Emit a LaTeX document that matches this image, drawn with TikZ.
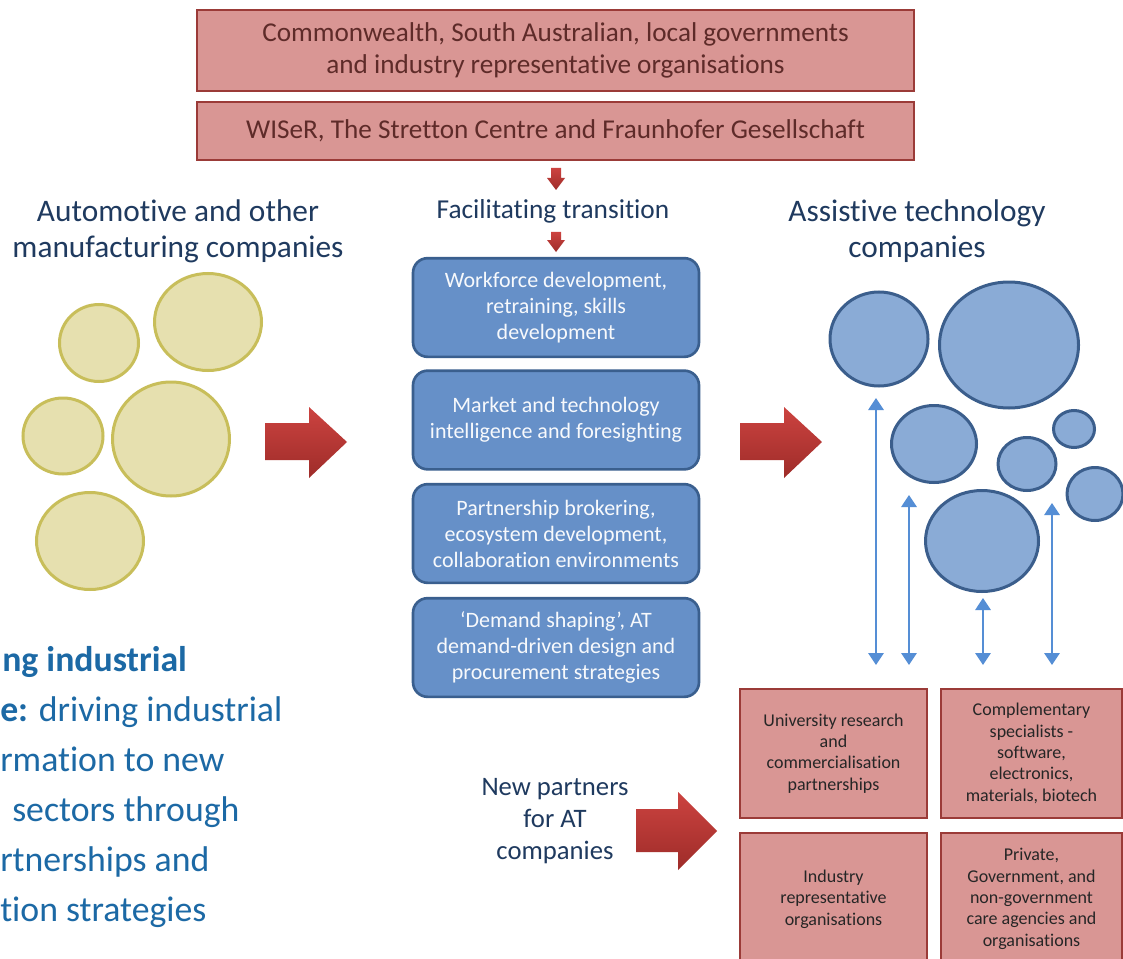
\documentclass[tikz,border=0pt]{standalone}
\usepackage{fontspec}
\setmainfont{Carlito}[Ligatures=NoCommon]
\usetikzlibrary{shapes.geometric}
\usetikzlibrary{arrows.meta}

\definecolor{boxpink}{HTML}{D99694}
\definecolor{pinkline}{HTML}{9B3B38}
\definecolor{govtext}{HTML}{5E2B29}
\definecolor{headtext}{HTML}{1F3A5F}
\definecolor{goaltext}{HTML}{1C69A5}
\definecolor{midfill}{HTML}{6690C8}
\definecolor{midline}{HTML}{3A5F8E}
\definecolor{atfill}{HTML}{8AABD6}
\definecolor{atline}{HTML}{3B5E8C}
\definecolor{mfgfill}{HTML}{E6E0AF}
\definecolor{mfgline}{HTML}{C8BE5A}
\definecolor{linkblue}{HTML}{558ED5}
\definecolor{arrowtop}{HTML}{CC4340}
\definecolor{arrowbot}{HTML}{9E2C29}

\begin{document}
\begin{tikzpicture}[x=0.75pt,y=-0.75pt]
	\tikzstyle{govbox}=[rectangle,draw=pinkline,fill=boxpink,line width=1.5pt,text=govtext,align=center,inner sep=0pt,minimum width=537.75pt,font=\fontsize{20.4}{23.5}\selectfont]
	\tikzstyle{midbox}=[rectangle,rounded corners=11pt,draw=midline,fill=midfill,line width=2pt,text=white!95!midfill,align=center,inner sep=0pt,minimum width=214.5pt,minimum height=74pt,font=\fontsize{16.5}{19.5}\selectfont]
	\tikzstyle{partbox}=[rectangle,draw=pinkline,fill=boxpink,line width=1.5pt,text=black!85,align=center,inner sep=0pt,font=\fontsize{13.5}{16}\selectfont]
	\tikzstyle{heading}=[text=headtext,align=center,font=\fontsize{23.5}{27}\selectfont]
	\tikzstyle{goal}=[anchor=base west,inner sep=0pt,text=goaltext,font=\fontsize{26.8}{30}\selectfont]
	\tikzstyle{mfgcirc}=[ellipse,draw=mfgline,fill=mfgfill,line width=2.25pt,inner sep=0pt]
	\tikzstyle{atcirc}=[ellipse,draw=atline,fill=atfill,line width=2.25pt,inner sep=0pt]
	\tikzstyle{link}=[draw=linkblue,line width=1.5pt,{Triangle[width=11.5pt,length=9pt]}-{Triangle[width=11.5pt,length=9pt]}]
	\tikzstyle{redarrow}=[top color=arrowtop,bottom color=arrowbot,draw=none]

	\clip (0,0) rectangle (1123,959);
	\fill[white] (0,0) rectangle (1123,959);

	\node[govbox,minimum height=60.75pt] (gov) at (555.5,50.5) {Commonwealth, South Australian, local governments\\and industry representative organisations};
	\node[govbox,minimum height=43.5pt] (wiser) at (555.5,131) {WISeR, The Stretton Centre and Fraunhofer Gesellschaft};

	\shade[redarrow] (551,168) -- (561,168) -- (561,178) -- (565,178) -- (556,190) -- (547,178) -- (551,178) -- cycle;
	\node[heading,font=\fontsize{20.5}{23}\selectfont] (facil) at (553,211) {Facilitating transition};
	\shade[redarrow] (551,232) -- (561,232) -- (561,240) -- (565,240) -- (556,252) -- (547,240) -- (551,240) -- cycle;

	\node[heading] (mfgtitle) at (178,231) {Automotive and other\\manufacturing companies};
	\node[heading] (attitle) at (917,231) {Assistive technology\\companies};

	\node[midbox] (skills) at (556,307.5) {Workforce development,\\retraining, skills\\development};
	\node[midbox] (market) at (556,420) {Market and technology\\intelligence and foresighting};
	\node[midbox] (broker) at (556,533.5) {Partnership brokering,\\ecosystem development,\\collaboration environments};
	\node[midbox] (demand) at (556,647.5) {‘Demand shaping’, AT\\demand-driven design and\\procurement strategies};

	\node[mfgcirc,minimum width=59.25pt,minimum height=57.75pt] (m1) at (99,343) {};
	\node[mfgcirc,minimum width=80.25pt,minimum height=72.75pt] (m2) at (208,322) {};
	\node[mfgcirc,minimum width=60pt,minimum height=57pt] (m3) at (63,436) {};
	\node[mfgcirc,minimum width=87.75pt,minimum height=85.5pt] (m4) at (171,439) {};
	\node[mfgcirc,minimum width=80.25pt,minimum height=72.75pt] (m5) at (90,541) {};

	\node[atcirc,minimum width=73.5pt,minimum height=70.5pt] (a1) at (879,339) {};
	\node[atcirc,minimum width=104.25pt,minimum height=94.5pt] (a2) at (1009,345) {};
	\node[atcirc,minimum width=63.75pt,minimum height=57.75pt] (a3) at (934,444) {};
	\node[atcirc,minimum width=43.5pt,minimum height=39.75pt] (a4) at (1027,464) {};
	\node[atcirc,minimum width=30.75pt,minimum height=27.75pt] (a5) at (1074,429) {};
	\node[atcirc,minimum width=42pt,minimum height=39.75pt] (a6) at (1095,494) {};
	\node[atcirc,minimum width=84.75pt,minimum height=75.75pt] (a7) at (982,541) {};

	\shade[redarrow] (265,423) -- (309,423) -- (309,407) -- (347,442) -- (309,478) -- (309,460) -- (265,460) -- cycle;
	\shade[redarrow] (740,423) -- (784,423) -- (784,407) -- (822,442) -- (784,478) -- (784,460) -- (740,460) -- cycle;
	\shade[redarrow] (636,809) -- (678,809) -- (678,792) -- (717,831) -- (678,870) -- (678,852) -- (636,852) -- cycle;

	\node[partbox,minimum width=140.25pt,minimum height=96.75pt] (uni) at (833.5,753.5) {University research\\and\\commercialisation\\partnerships};
	\node[partbox,minimum width=135.75pt,minimum height=96.75pt] (spec) at (1031.5,753.5) {Complementary\\specialists -\\software,\\electronics,\\materials, biotech};
	\node[partbox,minimum width=140.25pt,minimum height=99pt] (ind) at (833.5,899) {Industry\\representative\\organisations};
	\node[partbox,minimum width=135.75pt,minimum height=99pt] (care) at (1031.5,899) {Private,\\Government, and\\non-government\\care agencies and\\organisations};

	\node[heading,font=\fontsize{20}{24}\selectfont] (newp) at (555,821) {New partners\\for AT\\companies};

	\coordinate (u1) at (876,398);
	\coordinate (d1) at (876,665);
	\coordinate (u2) at (909,495);
	\coordinate (d2) at (909,665);
	\coordinate (u3) at (983,598);
	\coordinate (d3) at (983,665);
	\coordinate (u4) at (1052,503);
	\coordinate (d4) at (1052,665);
	\draw[link] (u1) -- (d1);
	\draw[link] (u2) -- (d2);
	\draw[link] (u3) -- (d3);
	\draw[link] (u4) -- (d4);

	\node[goal] (g1) at (2,671) {\bfseries ng industrial};
	\node[goal] (g2) at (0,721) {{\bfseries e:} driving industrial};
	\node[goal] (g3) at (0,771) {rmation to new};
	\node[goal] (g4) at (12,821) {sectors through};
	\node[goal] (g5) at (0,871) {rtnerships and};
	\node[goal] (g6) at (0,921) {tion strategies};
\end{tikzpicture}
\end{document}
